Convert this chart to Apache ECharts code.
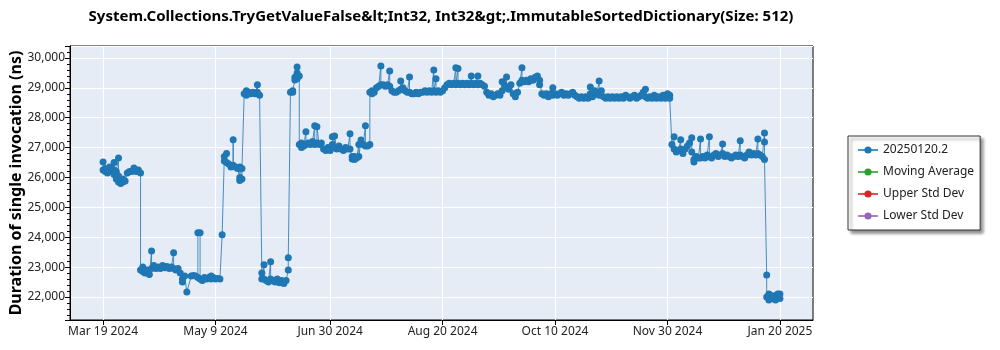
<!DOCTYPE html>
<html>
<head>
<meta charset="utf-8">
<script src="https://cdn.jsdelivr.net/npm/echarts@6/dist/echarts.min.js"></script>
<style>
  html, body { margin: 0; padding: 0; background: #ffffff; }
  #chart { width: 1000px; height: 350px; }
</style>
</head>
<body>
<div id="chart"></div>
<script>
// Benchmark history: one entry per run day, with every measurement of that day.
const chartTitle = 'System.Collections.TryGetValueFalse&lt;Int32, Int32&gt;.ImmutableSortedDictionary(Size: 512)';
const yAxisTitle = 'Duration of single invocation (ns)';
const seriesNames = ['20250120.2', 'Moving Average', 'Upper Std Dev', 'Lower Std Dev'];
const seriesColors = ['#1f77b4', '#2ca02c', '#d62728', '#9467bd'];
const xTickDates = ['2024-03-19', '2024-05-09', '2024-06-30', '2024-08-20', '2024-10-10', '2024-11-30', '2025-01-20'];
const monthNames = ['Jan', 'Feb', 'Mar', 'Apr', 'May', 'Jun', 'Jul', 'Aug', 'Sep', 'Oct', 'Nov', 'Dec'];
const xRange = ['2024-03-04', '2025-02-04'];
const yRange = [21230, 30400];

const runDays = [
  // March 2024
  '2024-03-19','2024-03-20','2024-03-21','2024-03-22','2024-03-23','2024-03-24','2024-03-25',
  '2024-03-26','2024-03-27','2024-03-28','2024-03-29','2024-03-30','2024-03-31',
  // April 2024
  '2024-04-01','2024-04-02','2024-04-03','2024-04-04','2024-04-05','2024-04-06','2024-04-07',
  '2024-04-08','2024-04-09','2024-04-10','2024-04-11','2024-04-12','2024-04-13','2024-04-14',
  '2024-04-15','2024-04-16','2024-04-17','2024-04-18','2024-04-19','2024-04-20','2024-04-21',
  '2024-04-22','2024-04-23','2024-04-24','2024-04-25','2024-04-26','2024-04-28','2024-04-29',
  '2024-04-30',
  // May 2024
  '2024-05-01','2024-05-02','2024-05-03','2024-05-04','2024-05-05','2024-05-06','2024-05-07',
  '2024-05-08','2024-05-09','2024-05-10','2024-05-11','2024-05-12','2024-05-13','2024-05-14',
  '2024-05-15','2024-05-16','2024-05-17','2024-05-18','2024-05-19','2024-05-20','2024-05-21',
  '2024-05-22','2024-05-23','2024-05-24','2024-05-25','2024-05-26','2024-05-27','2024-05-28',
  '2024-05-29','2024-05-30','2024-05-31',
  // June 2024
  '2024-06-01','2024-06-02','2024-06-03','2024-06-04','2024-06-05','2024-06-06','2024-06-07',
  '2024-06-08','2024-06-09','2024-06-10','2024-06-11','2024-06-12','2024-06-13','2024-06-14',
  '2024-06-15','2024-06-16','2024-06-17','2024-06-18','2024-06-19','2024-06-20','2024-06-21',
  '2024-06-22','2024-06-23','2024-06-24','2024-06-25','2024-06-26','2024-06-27','2024-06-28',
  '2024-06-29','2024-06-30',
  // July 2024
  '2024-07-01','2024-07-02','2024-07-03','2024-07-04','2024-07-05','2024-07-06','2024-07-07',
  '2024-07-08','2024-07-09','2024-07-10','2024-07-11','2024-07-12','2024-07-13','2024-07-14',
  '2024-07-15','2024-07-16','2024-07-17','2024-07-18','2024-07-19','2024-07-20','2024-07-21',
  '2024-07-22','2024-07-23','2024-07-24','2024-07-25','2024-07-26','2024-07-27','2024-07-28',
  '2024-07-29','2024-07-30','2024-07-31',
  // August 2024
  '2024-08-01','2024-08-02','2024-08-03','2024-08-04','2024-08-05','2024-08-06','2024-08-07',
  '2024-08-08','2024-08-09','2024-08-10','2024-08-11','2024-08-12','2024-08-13','2024-08-14',
  '2024-08-15','2024-08-16','2024-08-17','2024-08-18','2024-08-19','2024-08-20','2024-08-21',
  '2024-08-22','2024-08-23','2024-08-24','2024-08-25','2024-08-26','2024-08-27','2024-08-28',
  '2024-08-29','2024-08-30','2024-08-31',
  // September 2024
  '2024-09-01','2024-09-02','2024-09-03','2024-09-04','2024-09-05','2024-09-06','2024-09-07',
  '2024-09-08','2024-09-09','2024-09-10','2024-09-11','2024-09-12','2024-09-13','2024-09-14',
  '2024-09-15','2024-09-16','2024-09-17','2024-09-18','2024-09-19','2024-09-20','2024-09-21',
  '2024-09-22','2024-09-23','2024-09-24','2024-09-25','2024-09-26','2024-09-27','2024-09-28',
  '2024-09-29','2024-09-30',
  // October 2024
  '2024-10-01','2024-10-02','2024-10-03','2024-10-04','2024-10-05','2024-10-06','2024-10-07',
  '2024-10-08','2024-10-09','2024-10-10','2024-10-11','2024-10-12','2024-10-13','2024-10-14',
  '2024-10-15','2024-10-16','2024-10-17','2024-10-18','2024-10-19','2024-10-20','2024-10-21',
  '2024-10-22','2024-10-23','2024-10-24','2024-10-25','2024-10-26','2024-10-27','2024-10-28',
  '2024-10-29','2024-10-30','2024-10-31',
  // November 2024
  '2024-11-01','2024-11-02','2024-11-03','2024-11-04','2024-11-05','2024-11-06','2024-11-07',
  '2024-11-08','2024-11-09','2024-11-10','2024-11-11','2024-11-12','2024-11-13','2024-11-14',
  '2024-11-15','2024-11-16','2024-11-17','2024-11-18','2024-11-19','2024-11-20','2024-11-21',
  '2024-11-22','2024-11-23','2024-11-24','2024-11-25','2024-11-26','2024-11-27','2024-11-28',
  '2024-11-29','2024-11-30',
  // December 2024
  '2024-12-01','2024-12-02','2024-12-03','2024-12-04','2024-12-05','2024-12-06','2024-12-07',
  '2024-12-08','2024-12-09','2024-12-10','2024-12-11','2024-12-12','2024-12-13','2024-12-14',
  '2024-12-15','2024-12-16','2024-12-17','2024-12-18','2024-12-19','2024-12-20','2024-12-21',
  '2024-12-22','2024-12-23','2024-12-24','2024-12-25','2024-12-26','2024-12-27','2024-12-28',
  '2024-12-29','2024-12-30','2024-12-31',
  // January 2025
  '2025-01-01','2025-01-02','2025-01-03','2025-01-04','2025-01-05','2025-01-06','2025-01-07',
  '2025-01-08','2025-01-09','2025-01-10','2025-01-11','2025-01-12','2025-01-13','2025-01-14',
  '2025-01-15','2025-01-16','2025-01-17','2025-01-18','2025-01-19','2025-01-20'
];

// Measured durations (ns) for each run day above, in the same order.
const runDurations = [
  // March 2024
  [26520,26250],[26300,26200],[26150,26250],[26350,26200],[26300],[26500,26250,26100],[25950,26200],
  [26650,26050,25850],[25900,25800],[25850,25950],[25880],[26150],[26200],
  // April 2024
  [26200],[26250,26320],[26200],[26250,26200],[26150,22900],[22850,23000],[22800],
  [22900],[22750],[23540,22950],[23050],[22950],[23000],[22950],
  [23050],[22980],[23020],[22950],[23000],[23480,22950],[22900],
  [22950],[22800],[22600,22500],[22700],[22170],[22700],[22720],
  [22700],
  // May 2024
  [22650,24150],[24150,22600],[22550],[22650],[22600],[22650],[22700,22600],
  [22650],[22600],[22620],[22600],[24080],[26700,26550],[26800,26500],
  [26450],[26350],[26400,27260,26400],[26350],[26300],[26000,25900,26350],[25950,26300],
  [28800],[28900,28750],[28850],[28800],[28850],[28800],[29100,28850],
  [28750],[22800,22600],[23080,22600],
  // June 2024
  [22550],[22500],[23180,22600],[22550],[22500],[22600],[22480],
  [22550],[22450],[22550],[22900,23310],[28850],[28900,28850],[29260,29350],
  [29700,29500,29300],[29400,27100],[27000,27150],[27050],[27530,27100],[27150],[27100],
  [27200],[27730,27100],[27150,27700],[27100],[27150],[26950],[26900],
  [27000],[26900],
  // July 2024
  [27100,27360],[27000,27390],[26950],[27050],[26950],[26900],[27000],
  [26950],[27460,26950],[26700,26620],[26600,26700],[26650],[27100,26700],[27250],
  [27100],[27730,27050],[27050],[27100,28850],[28900,28800],[28850],[29000],
  [29050],[29730,29100],[29100],[29050],[29100],[29560,29050],[28900],
  [28850],[28850],[28900],
  // August 2024
  [28950,29230],[29000],[28900],[28850],[29360,28850],[28800],[28800],
  [28850],[28800],[28850],[28850],[28900],[28850],[28900],
  [28850],[29600,28900],[29300,28850],[28900],[28850],[28900],[29000],
  [29100],[29150],[29100],[29150],[29670,29100],[29650,29150],[29100],
  [29150],[29100],[29150],
  // September 2024
  [29100],[29400,29150],[29100],[29150],[29400,29100],[29150],[29100],
  [29050],[28850],[28750],[28800],[28700],[28750],[28800],
  [28750],[28900,29200],[29100],[29360,29000],[28950],[29100],[28800],
  [28700],[28850],[29150],[29670,29250],[29200],[29250],[29200],
  [29300],[29250],
  // October 2024
  [29350],[29400],[29100,29250],[28800],[28750],[28800],[28700],
  [28800],[29000,28750],[28800],[28750],[28800],[28850],[28750],
  [28800],[28750],[28800],[28850],[28750],[28700],[28650],
  [28700],[28650],[28700],[28650],[28800,29030],[28700],[28900],
  [28800],[29230,28750],[28900],
  // November 2024
  [28700],[28650],[28700],[28650],[28700],[28650],[28700],
  [28650],[28700],[28650],[28750],[28700],[28650],[28700],
  [28750],[28650],[28700],[28750],[28850],[28950,28700],[28650],
  [28700],[28650],[28750],[28650],[28700],[28650],[28750],
  [28650],[28800],
  // December 2024
  [28750,28650],[27100],[27360,26950],[26850],[26900],[27260,26950],[26800],
  [26950],[27050],[27150],[27330,26850],[26520,26600],[26700],[26650],
  [27290,26650],[26700],[26650],[26750],[27360,26700],[26650],[26750],
  [26800],[26700],[26750],[27120,26800],[26700],[26750],[26700],
  [26650],[26700],[26750],
  // January 2025
  [26700],[27230,26750],[26700],[26650],[26750],[26850],[26750],
  [26800],[26750],[27290,26800],[26750],[26700],[27490,27190,26600],[22740,22000],
  [21900,22100],[21950,22050],[22000],[21900,22050],[22100],[21950,22100]
];

const toTime = (s) => echarts.time.parse(s).getTime();

const mainData = [];
runDays.forEach((day, i) => {
  const t = toTime(day);
  runDurations[i].forEach((v) => mainData.push([t, v]));
});

const xTicks = xTickDates.map(toTime);

const fontFamily = '"Noto Sans", "Open Sans", sans-serif';

const chart = echarts.init(document.getElementById('chart'), null, { renderer: 'canvas' });

const series = seriesNames.map((name, i) => ({
  name: name,
  type: 'line',
  data: i === 0 ? mainData : [],
  symbol: 'circle',
  symbolSize: 7,
  showAllSymbol: true,
  lineStyle: { width: 1, color: seriesColors[i], opacity: 0.8 },
  itemStyle: { color: seriesColors[i] },
  emphasis: { disabled: true },
  animation: false
}));

chart.setOption({
  animation: false,
  backgroundColor: '#ffffff',
  textStyle: { fontFamily: fontFamily },
  title: {
    text: chartTitle,
    left: 441,
    top: 9,
    padding: 0,
    textAlign: 'center',
    textStyle: { fontFamily: fontFamily, fontSize: 15, fontWeight: 'bold', color: '#000000' }
  },
  legend: {
    orient: 'vertical',
    left: 848,
    top: 136,
    padding: [8, 6, 8, 9],
    itemWidth: 20,
    itemHeight: 9,
    itemGap: 10,
    backgroundColor: '#ffffff',
    borderColor: '#333333',
    borderWidth: 1,
    shadowColor: 'rgba(0,0,0,0.45)',
    shadowBlur: 3,
    shadowOffsetX: 3,
    shadowOffsetY: 3,
    textStyle: { fontFamily: fontFamily, fontSize: 12, color: '#222222' },
    data: seriesNames
  },
  grid: {
    left: 70,
    right: 187,
    top: 46,
    bottom: 30,
    outerBoundsMode: 'none',
    containLabel: false,
    show: true,
    backgroundColor: '#e5ecf6',
    borderColor: '#000000',
    borderWidth: 1
  },
  xAxis: {
    type: 'value',
    min: toTime(xRange[0]),
    max: toTime(xRange[1]),
    axisLine: { lineStyle: { color: '#000000', width: 1 } },
    axisTick: { show: true, length: 5, customValues: xTicks, lineStyle: { color: '#000000' } },
    axisLabel: {
      customValues: xTicks,
      color: '#222222',
      fontSize: 12,
      fontFamily: fontFamily,
      margin: 6,
      formatter: (val) => {
        const d = new Date(val);
        return monthNames[d.getMonth()] + ' ' + d.getDate() + ' ' + d.getFullYear();
      }
    },
    splitLine: { show: true, lineStyle: { color: '#ffffff', width: 1.2 } }
  },
  yAxis: {
    type: 'value',
    min: yRange[0],
    max: yRange[1],
    splitNumber: 9,
    name: yAxisTitle,
    nameLocation: 'middle',
    nameGap: 46,
    nameMoveOverlap: false,
    nameRotate: 90,
    nameTextStyle: { fontFamily: fontFamily, fontSize: 16, fontWeight: 'bold', color: '#000000' },
    axisLine: { show: true, lineStyle: { color: '#000000', width: 1 } },
    axisTick: { show: true, length: 5, lineStyle: { color: '#000000' } },
    minorTick: { show: true, splitNumber: 5, length: 3, lineStyle: { color: '#000000' } },
    axisLabel: {
      color: '#222222',
      fontSize: 12,
      fontFamily: fontFamily,
      margin: 5,
      showMinLabel: false,
      showMaxLabel: false,
      formatter: (v) => v.toLocaleString('en-US')
    },
    splitLine: { show: true, lineStyle: { color: '#ffffff', width: 1.2 } }
  },
  series: series
});
</script>
</body>
</html>
